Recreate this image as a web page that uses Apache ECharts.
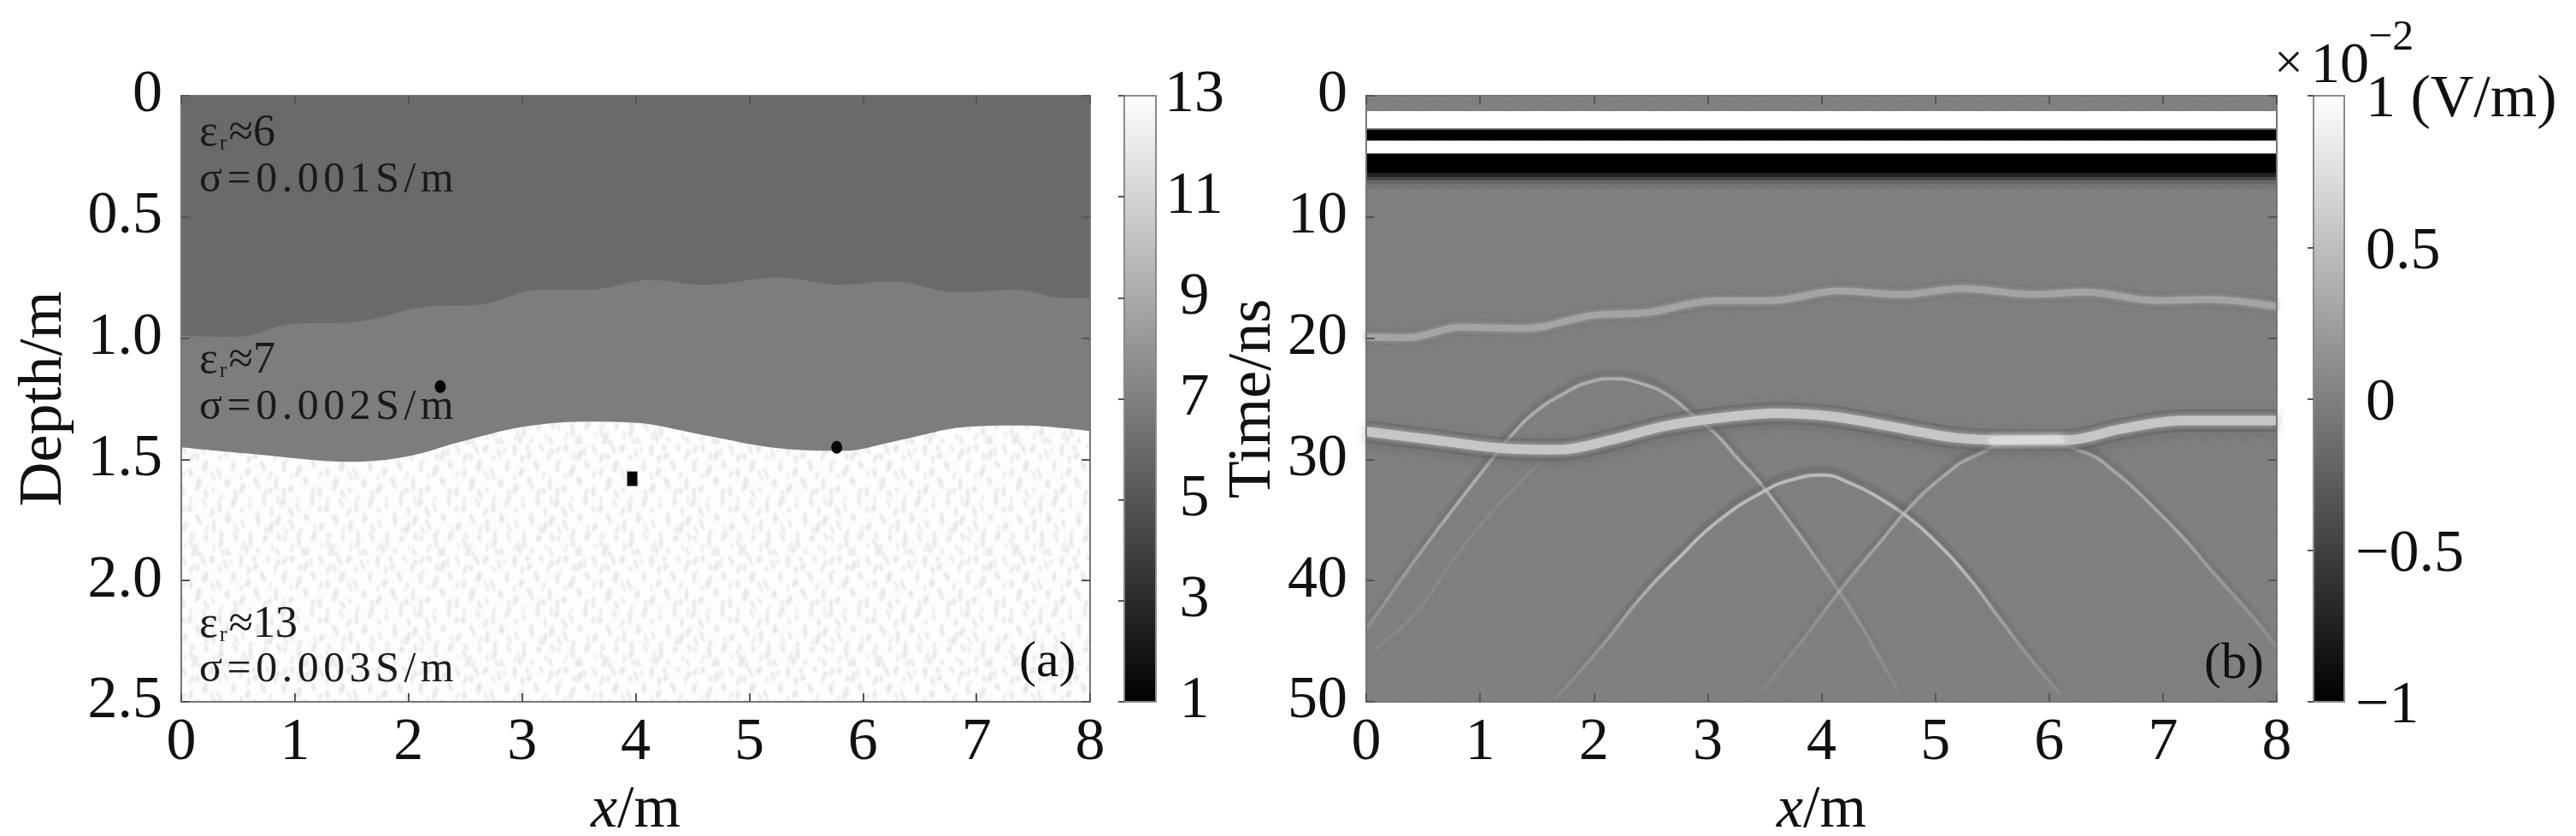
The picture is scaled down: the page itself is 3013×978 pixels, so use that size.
<!DOCTYPE html>
<html>
<head>
<meta charset="utf-8">
<style>html,body{margin:0;padding:0;background:#fff}#main{width:3013px;height:978px}</style>
<script src="https://cdn.jsdelivr.net/npm/echarts@6/dist/echarts.min.js"></script>
</head>
<body>
<div id="main"></div>
<script>
// panel (a): layer interfaces, x in m, depth in m
var upperX = [0,0.49,1.0,1.5,2.15,2.65,3.15,3.6,4.13,4.6,5.25,5.82,6.25,6.83,7.34,7.78,8];
var upperDepth = [0.99,0.995,0.94,0.935,0.87,0.86,0.80,0.80,0.76,0.78,0.75,0.78,0.765,0.81,0.80,0.835,0.835];
var lowerX = [0,0.56,1.5,2.0,2.44,3.0,3.6,4.02,4.6,5.25,5.82,6.33,6.9,7.4,8];
var lowerDepth = [1.45,1.475,1.51,1.487,1.43,1.366,1.344,1.35,1.40,1.454,1.465,1.42,1.366,1.36,1.383];
var targetX = [2.28,3.97,5.77];
var targetDepth = [1.2,1.58,1.45];
var depthTicks = ['0','0.5','1.0','1.5','2.0','2.5'];

// panel (b): direct wave stripes, ns and amplitude
var stripeStart = [1.27,2.8,3.74,4.8,6.4,6.7,7.0,7.3];
var stripeEnd = [2.68,3.67,4.72,6.4,6.7,7.0,7.3,7.7];
var stripeAmp = [1,-1,1,-1,-0.75,-0.45,-0.22,-0.08];

// panel (b): reflections
var refl1X = [0,0.37,0.83,1.38,2.0,2.46,3.08,3.54,4.16,4.7,5.24,5.86,6.32,6.94,7.4,8];
var refl1T = [19.9,19.95,19.1,19.2,18.1,17.9,16.9,16.9,16.1,16.4,15.9,16.4,16.2,16.9,16.8,17.4];
var refl2X = [0,0.6,1.22,1.69,2.15,2.6,3.08,3.62,4.08,4.62,5.16,5.63,6.17,6.63,7.17,8];
var refl2T = [27.7,28.4,29.1,29.2,28.4,27.3,26.6,26.2,26.45,27.3,28.2,28.4,28.4,27.5,26.8,26.8];
var brightX = [5.5,5.75,6.1];
var brightT = [28.45,28.4,28.35];

var hyp1X = [0,0.15,0.46,0.74,1.1,1.27,1.47,1.77,1.97,2.17,2.4,2.65,2.85,3.07,3.27,3.43,3.58,3.78,4.0,4.26,4.5,4.69];
var hyp1T = [44,42,37.9,34.4,30.05,28.1,26.2,24.4,23.6,23.35,23.7,24.7,26.2,27.9,30,31.6,33.4,35.9,38.8,42.4,46.1,49.2];
var hyp2X = [1.66,2.07,2.43,2.76,3.09,3.5,3.77,4.0,4.26,4.51,4.72,4.95,5.28,5.53,5.79,6.1];
var hyp2T = [49.8,45.4,41.2,38.0,35.1,32.6,31.6,31.3,32.0,33.2,34.5,36.3,39.6,42.7,45.9,49.4];
var hyp3X = [3.48,3.81,4.05,4.23,4.51,4.77,5.07,5.33,5.8,6.3,6.56,6.89,7.22,7.4,7.79,8];
var hyp3T = [49,45.2,42.2,40,36.9,34,31.4,29.8,28.4,29.4,30.9,33.7,36.9,38.9,43,45.5];
// faint multiples under the main limbs
var faint1X = [0.08,0.46,0.77,1.1,1.51];
var faint1T = [45.7,42.4,38.2,34.4,30.4];
var faint2X = [4.0,4.2,4.4,4.66];
var faint2T = [38.4,41,44.6,49];

var cbTicksA = [1,3,5,7,9,11,13];
var cbTicksB = {'-1':'\u22121','-0.5':'\u22120.5','0':'0','0.5':'0.5','1':'1 (V/m)'};

// speckle tile for the lower layer, hand placed
var speckle = [[6,8],[22,3],[38,12],[55,5],[71,14],[88,4],[104,11],[122,6],[139,13],[153,3],
 [12,26],[29,31],[46,24],[63,33],[80,25],[96,34],[113,27],[130,32],[147,25],
 [3,46],[20,52],[37,44],[54,55],[72,47],[89,53],[106,45],[123,52],[141,46],[156,54],
 [11,68],[28,73],[45,65],[62,75],[79,68],[97,74],[114,66],[132,72],[149,67],
 [5,89],[21,94],[39,86],[56,96],[73,88],[90,95],[107,87],[124,93],[142,89],[157,97],
 [13,110],[30,115],[47,107],[64,117],[81,109],[98,116],[115,108],[133,114],[150,110],
 [4,125],[35,127],[68,124],[101,126],[128,123]];

function speckleTile() {
    var c = document.createElement('canvas');
    c.width = 160; c.height = 130;
    var g = c.getContext('2d');
    g.fillStyle = '#fdfdfd';
    g.fillRect(0, 0, 160, 130);
    g.filter = 'blur(0.9px)';
    g.fillStyle = '#e8e8e8';
    speckle.forEach(function (p, i) {
        g.beginPath();
        g.ellipse(p[0], p[1], 1.8 + i % 3 * 0.6, 4 + i % 4 * 1.3, (i % 3 - 1) * 0.38, 0, Math.PI * 2);
        g.fill();
        g.beginPath();
        g.ellipse((p[0] + 9) % 160, (p[1] + 11) % 130, 1.5 + i % 2 * 0.6, 3 + i % 5, (1 - i % 3) * 0.42, 0, Math.PI * 2);
        g.fill();
    });
    return c;
}

function hatchTile() {
    var c = document.createElement('canvas');
    c.width = 72; c.height = 72;
    var g = c.getContext('2d');
    g.fillStyle = '#808080';
    g.fillRect(0, 0, 72, 72);
    g.filter = 'blur(2px)';
    g.lineWidth = 5;
    for (var k = -72; k <= 144; k += 24) {
        g.strokeStyle = 'rgba(0,0,0,0.015)';
        g.beginPath(); g.moveTo(k, 0); g.lineTo(k + 72, 72); g.stroke();
        g.strokeStyle = 'rgba(255,255,255,0.015)';
        g.beginPath(); g.moveTo(k + 12, 72); g.lineTo(k + 84, 0); g.stroke();
    }
    return c;
}

function zip(a, b) {
    return a.map(function (v, i) { return [v, b[i]]; });
}

var serif = '"Liberation Serif","Times New Roman",serif';
var axisColor = '#777';
var labelSize = 70;

function boxAxis(pos, grid, min, max, interval, labelOn, extra) {
    var o = {
        type: 'value', gridIndex: grid, position: pos, min: min, max: max, interval: interval,
        z: 6,
        splitLine: { show: false },
        axisLine: { show: true, onZero: false, lineStyle: { color: axisColor, width: 2 } },
        axisTick: { show: true, inside: true, length: 10, lineStyle: { color: '#555', width: 2 } },
        axisLabel: { show: labelOn, fontFamily: serif, fontSize: labelSize, color: '#111', margin: 14 }
    };
    for (var k in extra) o[k] = extra[k];
    return o;
}

function xName() {
    return {
        name: '{i|x}{r|/m}',
        nameLocation: 'middle',
        nameGap: 93,
        nameTextStyle: {
            rich: {
                i: { fontFamily: serif, fontStyle: 'italic', fontSize: 70, color: '#111' },
                r: { fontFamily: serif, fontSize: 70, color: '#111' }
            }
        }
    };
}

function yName(txt, gap) {
    return {
        name: txt, nameLocation: 'middle', nameGap: gap, nameRotate: 90,
        nameTextStyle: { fontFamily: serif, fontSize: 72, color: '#111' }
    };
}

function colorbarItem(params, api) {
    var cs = params.coordSys;
    var top = api.coord([0, api.value(1)])[1];
    var bottom = api.coord([0, api.value(0)])[1];
    return {
        type: 'rect',
        shape: { x: cs.x, y: top, width: cs.width, height: bottom - top },
        style: {
            fill: new echarts.graphic.LinearGradient(0, 0, 0, 1, [
                { offset: 0, color: '#ffffff' }, { offset: 1, color: '#000000' }
            ]),
            stroke: '#8a8a8a', lineWidth: 2
        }
    };
}

function stripeItem(params, api) {
    var a = api.coord([0, api.value(0)]);
    var b = api.coord([8, api.value(1)]);
    var v = Math.round(128 + 127 * api.value(2));
    return {
        type: 'rect',
        shape: { x: a[0], y: a[1], width: b[0] - a[0], height: b[1] - a[1] },
        style: { fill: 'rgb(' + v + ',' + v + ',' + v + ')' }
    };
}

function lineOn(ax, data, style, extra) {
    var o = {
        type: 'line', xAxisIndex: ax, yAxisIndex: ax, data: data,
        showSymbol: false, silent: true, smooth: 0.35, lineStyle: style
    };
    for (var k in extra) o[k] = extra[k];
    return o;
}

function limbStyle(strong, faint) {
    return {
        width: 4,
        color: new echarts.graphic.LinearGradient(0, 0, 0, 1, [
            { offset: 0, color: strong }, { offset: 0.4, color: strong }, { offset: 1, color: faint }
        ]),
        shadowColor: 'rgba(60,60,60,0.42)', shadowBlur: 5, shadowOffsetY: -7
    };
}

function noteBlock(x, y1, y2, lead, rest) {
    var spaced = rest.split('').map(function (ch) { return '{s|' + ch + '}'; }).join('');
    return [
        {
            type: 'text', left: x, top: y1, z: 20,
            style: {
                text: '{e|\u03b5}{sub|r}{e|' + lead + '}',
                rich: {
                    e: { fontFamily: serif, fontSize: 52, fill: '#1a1a1a', lineHeight: 50 },
                    sub: { fontFamily: serif, fontSize: 26, fill: '#1a1a1a', verticalAlign: 'bottom', lineHeight: 34, padding: [0, 2, 0, 2] }
                }
            }
        },
        {
            type: 'text', left: x, top: y2, z: 20,
            style: {
                text: spaced,
                rich: { s: { fontFamily: serif, fontSize: 50, fill: '#1a1a1a', padding: [0, 5.5, 0, 0] } }
            }
        }
    ];
}

var myChart = echarts.init(document.getElementById('main'));

myChart.setOption({
    animation: false,
    backgroundColor: '#fff',
    grid: [
        { left: 212, top: 112, width: 1063, height: 709, show: true, backgroundColor: '#6a6a6a', borderWidth: 0, outerBoundsMode: 'none' },
        { left: 1315, top: 112, width: 37, height: 709, outerBoundsMode: 'none' },
        { left: 1598, top: 112, width: 1065, height: 709, show: true, backgroundColor: '#808080', borderWidth: 0, outerBoundsMode: 'none' },
        { left: 2706, top: 112, width: 36, height: 709, outerBoundsMode: 'none' }
    ],
    xAxis: [
        boxAxis('bottom', 0, 0, 8, 1, true, xName()),
        boxAxis('top', 0, 0, 8, 1, false),
        { type: 'value', gridIndex: 1, min: 0, max: 1, show: false },
        boxAxis('bottom', 2, 0, 8, 1, true, xName()),
        boxAxis('top', 2, 0, 8, 1, false),
        { type: 'value', gridIndex: 3, min: 0, max: 1, show: false }
    ],
    yAxis: [
        (function () {
            var a = boxAxis('left', 0, 0, 2.5, 0.5, true, Object.assign({ inverse: true }, yName('Depth/m', 124)));
            a.axisLabel.margin = 22;
            a.axisLabel.padding = [12, 0, 0, 0];
            a.axisLabel.formatter = function (v) { return depthTicks[Math.round(v / 0.5)]; };
            return a;
        })(),
        boxAxis('right', 0, 0, 2.5, 0.5, false, { inverse: true }),
        {
            type: 'value', gridIndex: 1, position: 'right', min: cbTicksA[0], max: cbTicksA[cbTicksA.length - 1], interval: 2,
            z: 6, splitLine: { show: false },
            axisLine: { show: false },
            axisTick: { show: true, inside: true, length: 7, lineStyle: { color: '#555', width: 2 } },
            axisLabel: { fontFamily: serif, fontSize: labelSize, color: '#111', margin: 45, align: 'center', padding: [12, 0, 0, 0] }
        },
        (function () {
            var a = boxAxis('left', 2, 0, 50, 10, true, Object.assign({ inverse: true }, yName('Time/ns', 92)));
            a.axisLabel.margin = 22;
            a.axisLabel.padding = [12, 0, 0, 0];
            return a;
        })(),
        boxAxis('right', 2, 0, 50, 10, false, { inverse: true }),
        {
            type: 'value', gridIndex: 3, position: 'right', min: -1, max: 1, interval: 0.5,
            z: 6, splitLine: { show: false },
            axisLine: { show: false },
            axisTick: { show: true, inside: true, length: 7, lineStyle: { color: '#555', width: 2 } },
            axisLabel: {
                margin: 13,
                padding: [12, 0, 0, 0],
                formatter: function (v) {
                    return v < 0 ? '{n|' + cbTicksB[v] + '}' : '{p|' + cbTicksB[v] + '}';
                },
                rich: {
                    n: { fontFamily: serif, fontSize: labelSize, color: '#111' },
                    p: { fontFamily: serif, fontSize: labelSize, color: '#111', padding: [0, 0, 0, 12] }
                }
            }
        }
    ],
    series: [
        // panel a
        lineOn(0, zip(upperX, upperDepth), { width: 0 }, {
            areaStyle: { origin: 'end', color: '#7d7d7d', opacity: 1 }
        }),
        lineOn(0, zip(lowerX, lowerDepth), { width: 0 }, {
            areaStyle: { origin: 'end', color: { image: speckleTile(), repeat: 'repeat' }, opacity: 1 }
        }),
        {
            type: 'scatter', xAxisIndex: 0, yAxisIndex: 0, silent: true, z: 4,
            symbolSize: function (v, p) { return p.dataIndex === 1 ? [12, 17] : [13, 15]; },
            itemStyle: { color: '#050505', opacity: 1 },
            data: zip(targetX, targetDepth).map(function (p, i) {
                return { value: p, symbol: i === 1 ? 'rect' : 'circle' };
            })
        },
        // colorbars
        {
            type: 'custom', xAxisIndex: 2, yAxisIndex: 2, silent: true, renderItem: colorbarItem,
            data: [[cbTicksA[0], cbTicksA[cbTicksA.length - 1]]]
        },
        {
            type: 'custom', xAxisIndex: 5, yAxisIndex: 5, silent: true, renderItem: colorbarItem,
            data: [[-1, 1]]
        },
        // panel b background texture
        lineOn(3, [[0, 0], [8, 0]], { width: 0 }, {
            smooth: false,
            areaStyle: { origin: 'end', color: { image: hatchTile(), repeat: 'repeat' }, opacity: 1 }
        }),
        lineOn(3, zip(faint1X, faint1T), { width: 3, color: 'rgba(160,160,160,0.3)', shadowColor: 'rgba(160,160,160,0.3)', shadowBlur: 3 }),
        lineOn(3, zip(faint2X, faint2T), { width: 3, color: 'rgba(160,160,160,0.25)' }),
        lineOn(3, zip(hyp1X, hyp1T), limbStyle('rgba(190,190,190,0.7)', 'rgba(170,170,170,0.12)'), { smooth: 0.5 }),
        lineOn(3, zip(hyp2X, hyp2T), limbStyle('rgba(195,195,195,0.85)', 'rgba(170,170,170,0.18)'), { smooth: 0.5 }),
        lineOn(3, zip(hyp3X, hyp3T), limbStyle('rgba(185,185,185,0.65)', 'rgba(170,170,170,0.12)'), { smooth: 0.5 }),
        lineOn(3, zip(refl1X, refl1T), {
            width: 20, color: 'rgba(95,95,95,0.25)', shadowColor: 'rgba(90,90,90,0.5)', shadowBlur: 10
        }),
        lineOn(3, zip(refl1X, refl1T), { width: 8, color: '#a4a4a4', shadowColor: '#a4a4a4', shadowBlur: 8 }),
        lineOn(3, zip(refl2X, refl2T), {
            width: 26, color: 'rgba(70,70,70,0.35)', shadowColor: 'rgba(60,60,60,0.6)', shadowBlur: 14, shadowOffsetY: 3
        }),
        lineOn(3, zip(refl2X, refl2T), { width: 11, color: '#c6c6c6', shadowColor: '#c6c6c6', shadowBlur: 10 }),
        lineOn(3, zip(brightX, brightT), { width: 9, cap: 'round', color: '#dadada', shadowColor: '#d6d6d6', shadowBlur: 8 }),
        {
            type: 'custom', xAxisIndex: 3, yAxisIndex: 3, silent: true, renderItem: stripeItem, z: 5,
            data: stripeStart.map(function (s, i) { return [s, stripeEnd[i], stripeAmp[i]]; })
        }
    ],
    graphic: noteBlock(233, 130, 186, '\u22486', '\u03c3=0.001S/m')
        .concat(noteBlock(233, 396, 452, '\u22487', '\u03c3=0.002S/m'))
        .concat(noteBlock(233, 705, 759, '\u224813', '\u03c3=0.003S/m'))
        .concat([
            { type: 'text', left: 1192, top: 745, z: 20, style: { text: '(a)', fontFamily: serif, fontSize: 60, fill: '#111' } },
            { type: 'text', left: 2578, top: 747, z: 20, style: { text: '(b)', fontFamily: serif, fontSize: 60, fill: '#111' } },
            { type: 'text', left: 2660, top: 46, z: 20, style: { text: '\u00d7', fontFamily: serif, fontSize: 60, fill: '#111' } },
            { type: 'text', left: 2703, top: 44, z: 20, style: { text: '10', fontFamily: serif, fontSize: 68, fill: '#111' } },
            { type: 'text', left: 2770, top: 20, z: 20, style: { text: '\u22122', fontFamily: serif, fontSize: 50, fill: '#111' } }
        ])
});
</script>
</body>
</html>
